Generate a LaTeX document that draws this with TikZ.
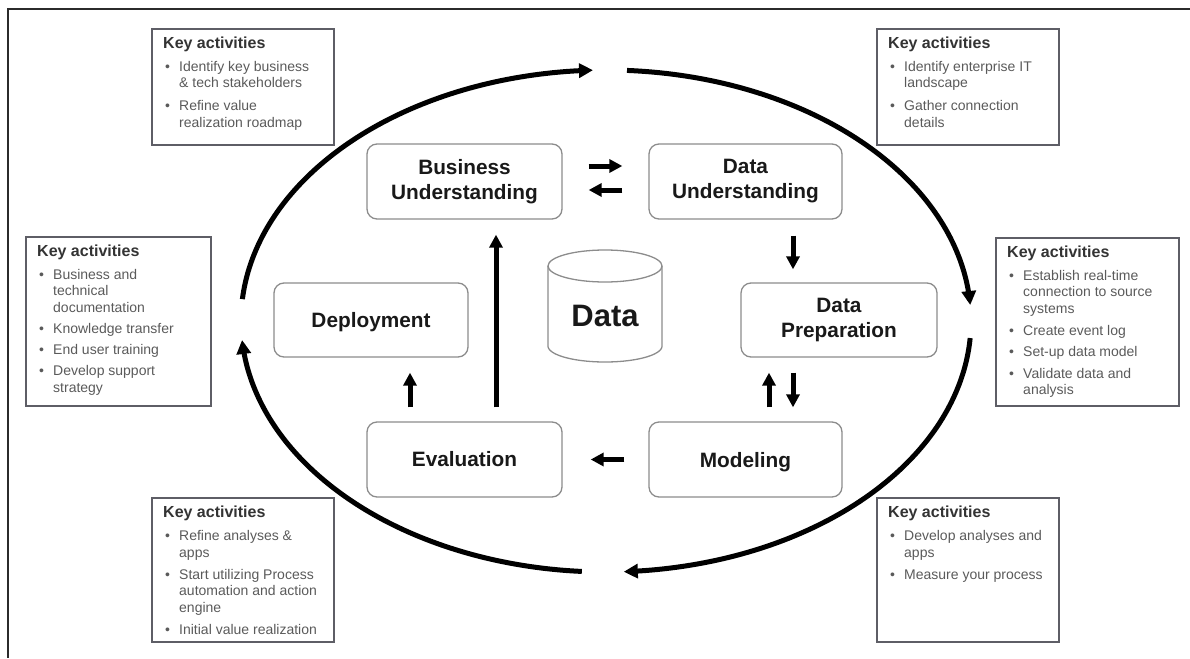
\documentclass[tikz,border=0pt]{standalone}
\usepackage{fontspec}
\setmainfont{Liberation Sans}
\usetikzlibrary{arrows.meta,calc}
\definecolor{frm}{HTML}{2B2B2B}
\definecolor{kbd}{HTML}{5E5E66}
\definecolor{ktx}{HTML}{5A5A5A}
\definecolor{ktl}{HTML}{333333}
\definecolor{pbd}{HTML}{8C8C8C}
\newcommand\kbul[1]{\hspace*{2pt}\makebox[14pt][l]{\textbullet}#1}
\newcommand\kcont[1]{\hspace*{16pt}#1}
\newcommand\ktitle{{\color{ktl}\bfseries\fontsize{16}{16.6}\selectfont Key activities}}
\begin{document}
\begin{tikzpicture}[x=1pt,y=-1pt,
  kbox/.style={draw=kbd, line width=1.6pt, anchor=north west, inner sep=0pt},
  ktext/.style={anchor=north west, inner sep=0pt, align=left, text=ktx, font=\fontsize{14}{16.6}\selectfont},
  proc/.style={draw=pbd, line width=1.3pt, rounded corners=10pt, align=center, inner sep=0pt, font=\bfseries\fontsize{20.8}{25}\selectfont, text=black!90},
  bigarc/.style={line width=5pt, -{Triangle[length=14pt,width=14pt]}},
  sarr/.style={line width=5pt, -{Triangle[length=13pt,width=13pt]}},
]
\useasboundingbox (0,0) rectangle (1190,658);
% frame
\draw[frm, line width=2pt] (1190,9) -- (8,9) -- (8,658);

% key activity boxes
\node[kbox, minimum width=182pt, minimum height=116pt] (k1) at (151,28) {};
\node[kbox, minimum width=182pt, minimum height=116pt] (k2) at (876,28) {};
\node[kbox, minimum width=185pt, minimum height=169pt] (k3) at (25,236) {};
\node[kbox, minimum width=183pt, minimum height=168pt] (k4) at (995,237) {};
\node[kbox, minimum width=182pt, minimum height=144pt] (k5) at (151,497) {};
\node[kbox, minimum width=182pt, minimum height=144pt] (k6) at (876,497) {};

\node[ktext] (t1) at ($(k1.north west)+(12,8.5)$) {\ktitle\\[6.5pt]
  \kbul{Identify key business}\\ \kcont{\& tech stakeholders}\\[6pt]
  \kbul{Refine value}\\ \kcont{realization roadmap}};
\node[ktext] (t2) at ($(k2.north west)+(12,8.5)$) {\ktitle\\[6.5pt]
  \kbul{Identify enterprise IT}\\ \kcont{landscape}\\[6pt]
  \kbul{Gather connection}\\ \kcont{details}};
\node[ktext] (t3) at ($(k3.north west)+(12,8.5)$) {\ktitle\\[6.5pt]
  \kbul{Business and}\\ \kcont{technical}\\ \kcont{documentation}\\[4.5pt]
  \kbul{Knowledge transfer}\\[4.5pt]
  \kbul{End user training}\\[4.5pt]
  \kbul{Develop support}\\ \kcont{strategy}};
\node[ktext] (t4) at ($(k4.north west)+(12,8.5)$) {\ktitle\\[6.5pt]
  \kbul{Establish real-time}\\ \kcont{connection to source}\\ \kcont{systems}\\[5pt]
  \kbul{Create event log}\\[5pt]
  \kbul{Set-up data model}\\[5pt]
  \kbul{Validate data and}\\ \kcont{analysis}};
\node[ktext] (t5) at ($(k5.north west)+(12,8.5)$) {\ktitle\\[6.5pt]
  \kbul{Refine analyses \&}\\ \kcont{apps}\\[5.5pt]
  \kbul{Start utilizing Process}\\ \kcont{automation and action}\\ \kcont{engine}\\[5.5pt]
  \kbul{Initial value realization}};
\node[ktext] (t6) at ($(k6.north west)+(12,8.5)$) {\ktitle\\[6.5pt]
  \kbul{Develop analyses and}\\ \kcont{apps}\\[5.5pt]
  \kbul{Measure your process}};

% process nodes
\node[proc, minimum width=195pt, minimum height=75pt] (bu) at (464.5,181.5) {Business\\Understanding};
\node[proc, minimum width=193pt, minimum height=75pt] (du) at (745.5,181.5) {Data\\Understanding};
\node[proc, minimum width=196pt, minimum height=74pt] (dp) at (839,320) {Data\\Preparation};
\node[proc, minimum width=193pt, minimum height=75pt, text depth=0pt] (mo) at (745.5,459.5) {Modeling};
\node[proc, minimum width=195pt, minimum height=75pt] (ev) at (464.5,459.5) {Evaluation};
\node[proc, minimum width=194pt, minimum height=74pt, text depth=0pt] (de) at (371,320) {Deployment};

% data cylinder
\draw[pbd, line width=1.3pt] (605,266) ellipse [x radius=57pt, y radius=16pt];
\draw[pbd, line width=1.3pt] (548,266) -- (548,346)
  plot[domain=180:360, samples=60] ({605+57*cos(\x)},{346-16*sin(\x)}) -- (662,266);
\node[font=\bfseries\fontsize{31}{31}\selectfont, text=black!90, inner sep=0pt] (dat) at (605,316) {Data};

% small arrows
\draw[sarr, shorten <=26pt, shorten >=26pt] (bu.east |- 0,166) -- (du.west |- 0,166);
\draw[sarr, shorten <=26pt, shorten >=26pt] (du.west |- 0,190) -- (bu.east |- 0,190);
\draw[sarr, shorten <=16pt, shorten >=13pt] (du.south -| 793,0) -- (dp.north -| 793,0);
\draw[sarr, shorten <=15pt, shorten >=14pt] (dp.south -| 793,0) -- (mo.north -| 793,0);
\draw[sarr, shorten <=14pt, shorten >=15pt] (mo.north -| 769,0) -- (dp.south -| 769,0);
\draw[sarr, shorten <=24pt, shorten >=28pt] (mo.west) -- (ev.east);
\draw[sarr, shorten <=14pt, shorten >=15pt] (ev.north -| 410,0) -- (de.south -| 410,0);
\draw[sarr, shorten <=14pt, shorten >=15pt] (ev.north -| 496,0) -- (bu.south -| 496,0);

% outer cycle arcs
\draw[bigarc] plot[domain=175:92.04, samples=80] ({606+365*cos(\x)},{321-251*sin(\x)});
\draw[bigarc] plot[domain=86.7:3.65, samples=80] ({606+365*cos(\x)},{321-251*sin(\x)});
\draw[bigarc] plot[domain=-3.9:-87.2, samples=80] ({606+365*cos(\x)},{321-251*sin(\x)});
\draw[bigarc] plot[domain=-93.8:-175.66, samples=80] ({606+365*cos(\x)},{321-251*sin(\x)});
\end{tikzpicture}
\end{document}
